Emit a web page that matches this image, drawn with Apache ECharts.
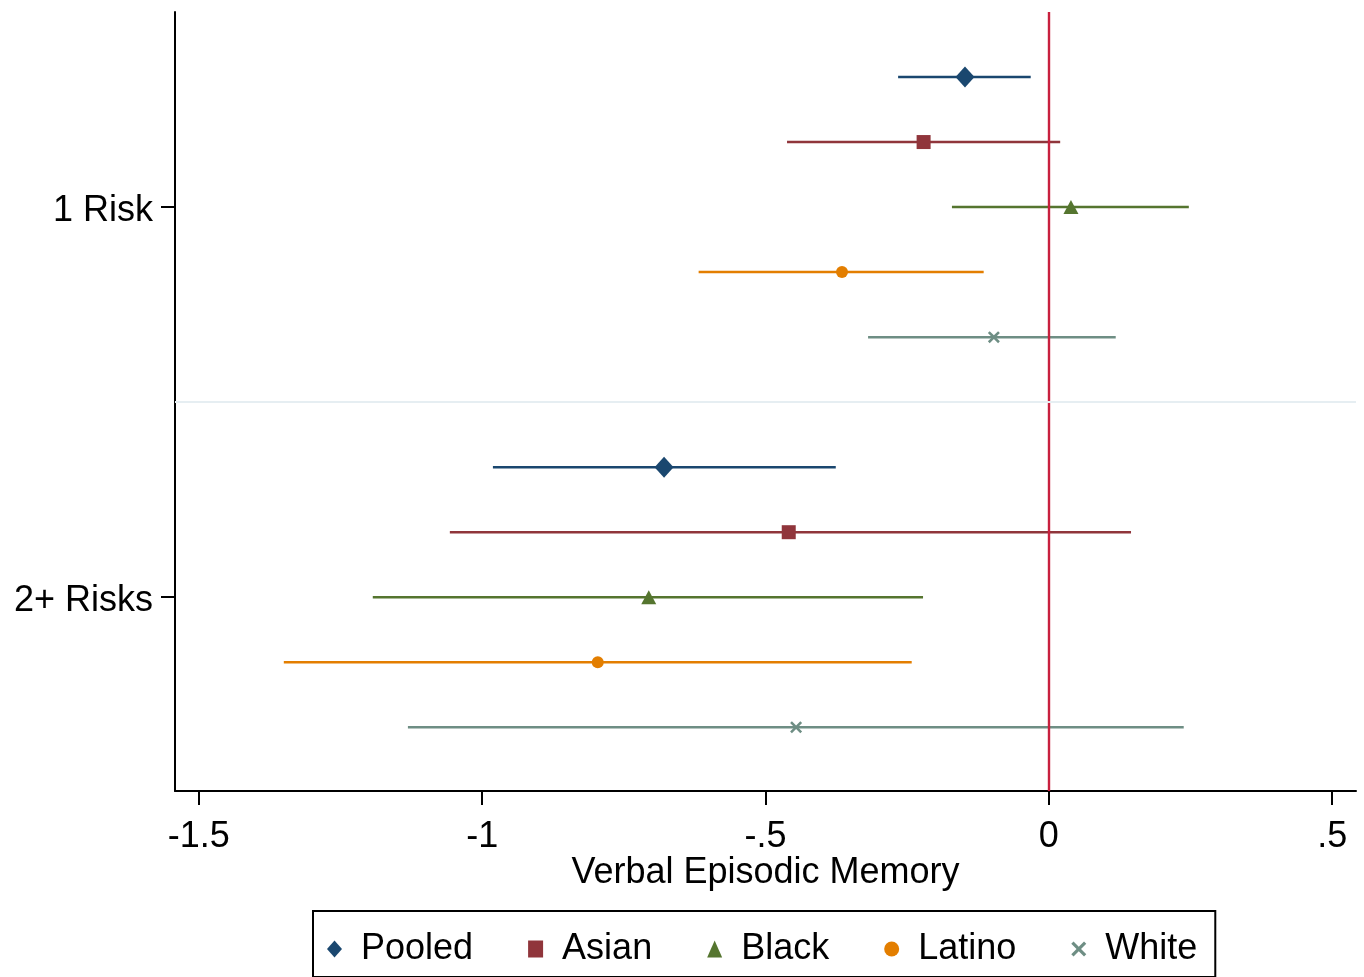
<!DOCTYPE html>
<html>
<head>
<meta charset="utf-8">
<script src="https://cdn.jsdelivr.net/npm/echarts@6/dist/echarts.min.js"></script>
<style>
  html, body { margin: 0; padding: 0; background: #ffffff; }
  #chart { width: 1364px; height: 977px; }
</style>
</head>
<body>
<div id="chart"></div>
<script>
// Risk categories on the y axis and the groups plotted within each category
const categories = ['1 Risk', '2+ Risks'];
const groups = ['Pooled', 'Asian', 'Black', 'Latino', 'White'];

// Point estimates and 95% confidence bounds, one entry per group
const estimate1Risk = [-0.148, -0.221, 0.039, -0.365, -0.097];
const lower1Risk    = [-0.266, -0.462, -0.171, -0.618, -0.319];
const upper1Risk    = [-0.032, 0.020, 0.247, -0.115, 0.118];

const estimate2Risk = [-0.679, -0.459, -0.706, -0.796, -0.446];
const lower2Risk    = [-0.981, -1.057, -1.193, -1.350, -1.131];
const upper2Risk    = [-0.376, 0.145, -0.222, -0.242, 0.238];

// X axis ticks and labels
const xTickValues = [-1.5, -1, -0.5, 0, 0.5];
const xTickLabels = ['-1.5', '-1', '-.5', '0', '.5'];
const xTitle = 'Verbal Episodic Memory';

const estimates = [estimate1Risk, estimate2Risk];
const lowers = [lower1Risk, lower2Risk];
const uppers = [upper1Risk, upper2Risk];

// Stata s2color palette
const colors = ['#1a476f', '#90353b', '#55752f', '#e37e00', '#6e8e84'];
const crossPath = 'path://M1.5,0 L5,3.5 L8.5,0 L10,1.5 L6.5,5 L10,8.5 L8.5,10 L5,6.5 L1.5,10 L0,8.5 L3.5,5 L0,1.5 Z';
const symbols = ['diamond', 'rect', 'triangle', 'circle', crossPath];
const symbolSizes = [[19, 21], [14, 14], [15, 14], [12, 12], [12, 12]];

const FONT = '"Liberation Sans", Arial, sans-serif';

// Row layout: each category occupies five rows, separated by one blank row
const rowOf = (c, g) => 11 - 6 * c - g;
const categoryRow = c => 9 - 6 * c;
const categoryTicks = categories.map((_, c) => categoryRow(c));

const series = [];

groups.forEach((name, g) => {
  // Confidence interval segments
  series.push({
    type: 'custom',
    name: name + ' CI',
    silent: true,
    z: 2,
    data: categories.map((_, c) => [lowers[c][g], uppers[c][g], rowOf(c, g)]),
    encode: { x: [0, 1], y: 2 },
    renderItem: function (params, api) {
      const p1 = api.coord([api.value(0), api.value(2)]);
      const p2 = api.coord([api.value(1), api.value(2)]);
      return {
        type: 'line',
        shape: { x1: p1[0], y1: p1[1], x2: p2[0], y2: p2[1] },
        style: { stroke: colors[g], lineWidth: 2.5 }
      };
    }
  });
  // Point estimates
  series.push({
    type: 'scatter',
    name: name,
    z: 4,
    symbol: symbols[g],
    symbolSize: symbolSizes[g],
    itemStyle: { color: colors[g], opacity: 1 },
    data: categories.map((_, c) => [estimates[c][g], rowOf(c, g)])
  });
});

// Reference lines: zero effect and the divider between categories
series.push({
  type: 'scatter',
  name: 'reference',
  silent: true,
  z: 3,
  data: [],
  markLine: {
    silent: true,
    symbol: 'none',
    animation: false,
    label: { show: false },
    data: [
      { xAxis: 0, lineStyle: { color: '#c8203e', width: 2.4, type: 'solid' } },
      { yAxis: 6, lineStyle: { color: '#e6eef2', width: 2, type: 'solid' } }
    ]
  }
});

const chart = echarts.init(document.getElementById('chart'), null, { renderer: 'canvas' });
chart.setOption({
  animation: false,
  backgroundColor: '#ffffff',
  textStyle: { fontFamily: FONT, color: '#000' },
  grid: { left: 175, right: 8, top: 12, bottom: 186, containLabel: false },
  xAxis: {
    type: 'value',
    min: -1.542,
    max: 0.542,
    name: xTitle,
    nameLocation: 'middle',
    nameGap: 64,
    nameMoveOverlap: false,
    nameTextStyle: { fontFamily: FONT, fontSize: 36, color: '#000' },
    axisLine: { show: true, onZero: false, lineStyle: { color: '#000', width: 2 } },
    axisTick: { show: true, length: 14, lineStyle: { color: '#000', width: 2 }, customValues: xTickValues },
    axisLabel: {
      show: true,
      margin: 28,
      fontFamily: FONT,
      fontSize: 36,
      color: '#000',
      customValues: xTickValues,
      formatter: v => {
        const i = xTickValues.findIndex(t => Math.abs(t - v) < 1e-9);
        return i >= 0 ? xTickLabels[i] : '';
      }
    },
    splitLine: { show: false }
  },
  yAxis: {
    type: 'value',
    min: 0.02,
    max: 12,
    axisLine: { show: true, onZero: false, lineStyle: { color: '#000', width: 2 } },
    axisTick: { show: true, length: 14, lineStyle: { color: '#000', width: 2 }, customValues: categoryTicks },
    axisLabel: {
      show: true,
      margin: 22,
      fontFamily: FONT,
      fontSize: 36,
      color: '#000',
      customValues: categoryTicks,
      formatter: v => {
        const c = categoryTicks.findIndex(t => Math.abs(t - v) < 1e-9);
        return c >= 0 ? '{cat|' + categories[c] + '}' : '';
      },
      rich: {
        cat: { fontFamily: FONT, fontSize: 36, color: '#000', padding: [8, 0, 0, 0] }
      }
    },
    splitLine: { show: false }
  },
  legend: {
    data: groups,
    left: 313,
    top: 911,
    orient: 'horizontal',
    itemGap: 55,
    itemWidth: 15,
    itemHeight: 17,
    borderColor: '#000',
    borderWidth: 2,
    padding: [20, 18, 10, 14],
    selectedMode: false,
    textStyle: { fontFamily: FONT, fontSize: 36, color: '#000', padding: [0, 0, 0, 14] }
  },
  series: series
});
</script>
</body>
</html>
